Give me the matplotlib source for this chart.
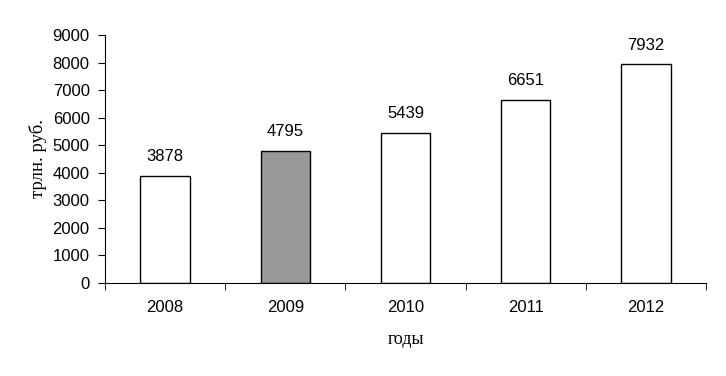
import matplotlib.pyplot as plt
import numpy as np
from matplotlib.ticker import FixedLocator

years = ['2008', '2009', '2010', '2011', '2012']
values = [3878, 4795, 5439, 6651, 7932]
colors = ['white', '#999999', 'white', 'white', 'white']

fig = plt.figure(figsize=(7.26, 3.76), dpi=100)
ax = fig.add_axes([105/726, 1-283/376, 601/726, 248/376])

x = np.arange(len(years))
bars = ax.bar(x, values, width=0.41, color=colors, edgecolor='black', linewidth=1.0)

for xi, v in zip(x, values):
    ax.annotate(str(v), (xi, v), xytext=(0, 8.5), textcoords='offset points',
                ha='center', va='bottom', fontsize=12, family='Liberation Sans')

ax.set_xlim(-0.5, len(years) - 0.5)
ax.set_ylim(0, 9000)
ax.set_yticks(np.arange(0, 9001, 1000))
ax.set_xticks(x)
ax.set_xticklabels(years)
ax.xaxis.set_minor_locator(FixedLocator(np.arange(-0.5, len(years), 1.0)))
ax.tick_params(axis='x', which='major', length=0, pad=12)
ax.tick_params(axis='x', which='minor', length=5, direction='out')
ax.tick_params(axis='y', length=5, direction='out', pad=6)
for lab in ax.get_xticklabels() + ax.get_yticklabels():
    lab.set_family('Liberation Sans')
    lab.set_fontsize(12)

ax.spines['top'].set_visible(False)
ax.spines['right'].set_visible(False)

ax.set_ylabel('трлн. руб.', family='Liberation Serif', fontsize=13.5, labelpad=4)
ax.set_xlabel('годы', family='Liberation Serif', fontsize=13, labelpad=12)

fig.savefig('out.png', dpi=100)
